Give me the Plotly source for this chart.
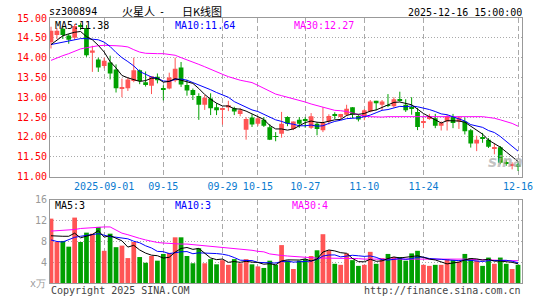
import plotly.graph_objects as go

dates = [
    "2025-08-19","2025-08-20","2025-08-21","2025-08-22","2025-08-25","2025-08-26","2025-08-27","2025-08-28","2025-08-29",
    "2025-09-01","2025-09-02","2025-09-03","2025-09-04","2025-09-05","2025-09-08","2025-09-09","2025-09-10","2025-09-11",
    "2025-09-12","2025-09-15","2025-09-16","2025-09-17","2025-09-18","2025-09-19","2025-09-22","2025-09-23","2025-09-24",
    "2025-09-25","2025-09-26","2025-09-29","2025-09-30",
    "2025-10-09","2025-10-10","2025-10-13","2025-10-14","2025-10-15","2025-10-16","2025-10-17","2025-10-20","2025-10-21",
    "2025-10-22","2025-10-23","2025-10-24","2025-10-27","2025-10-28","2025-10-29","2025-10-30","2025-10-31",
    "2025-11-03","2025-11-04","2025-11-05","2025-11-06","2025-11-07","2025-11-10","2025-11-11","2025-11-12","2025-11-13",
    "2025-11-14","2025-11-17","2025-11-18","2025-11-19","2025-11-20","2025-11-21","2025-11-24","2025-11-25","2025-11-26",
    "2025-11-27","2025-11-28",
    "2025-12-01","2025-12-02","2025-12-03","2025-12-04","2025-12-05","2025-12-08","2025-12-09","2025-12-10","2025-12-11",
    "2025-12-12","2025-12-15","2025-12-16",
]

opens = [14.39,14.57,14.73,14.56,14.50,14.80,14.75,14.12,13.95,13.79,
         13.88,13.70,13.23,13.23,13.41,13.68,13.38,13.29,13.52,13.20,
         13.22,13.42,13.75,13.31,13.18,13.03,12.81,12.97,12.75,12.70,
         12.74,12.72,12.58,12.18,12.49,12.33,12.43,12.24,12.02,12.08,
         12.50,12.20,12.43,12.42,12.23,12.33,12.17,12.39,12.55,12.50,
         12.56,12.75,12.53,12.50,12.64,12.91,12.81,12.79,12.77,12.94,
         12.81,12.73,12.63,12.36,12.45,12.47,12.28,12.39,12.50,12.39,
         12.39,12.17,11.83,11.98,11.93,11.70,11.74,11.35,11.28,11.30]
highs = [14.78,14.75,14.77,14.60,14.85,14.87,14.82,14.30,14.00,14.00,
         14.05,13.83,13.47,13.50,14.00,13.70,13.65,13.53,13.60,13.30,
         13.62,14.00,13.89,13.44,13.22,13.10,13.06,13.10,12.85,12.72,
         12.91,12.76,12.73,12.50,12.57,12.52,12.50,12.32,12.12,12.63,
         12.52,12.39,12.50,12.50,12.60,12.37,12.75,12.57,12.62,12.58,
         12.81,12.75,12.56,12.70,12.93,12.91,12.93,13.08,13.00,13.14,
         12.95,13.00,12.73,12.48,12.58,12.58,12.39,12.56,12.58,12.52,
         12.49,12.20,12.03,12.10,11.97,11.83,11.77,11.43,11.36,11.39]
lows = [14.23,14.47,14.47,14.35,14.45,14.70,14.02,13.64,13.64,13.73,
        13.45,13.12,13.00,13.16,13.38,13.33,13.27,13.08,13.35,12.92,
        13.20,13.38,13.26,13.04,12.93,12.43,12.68,12.55,12.55,12.31,
        12.65,12.55,12.52,11.93,12.25,12.28,12.25,11.92,11.89,11.98,
        12.27,12.17,12.23,12.23,12.20,12.04,12.12,12.31,12.45,12.43,
        12.52,12.47,12.39,12.42,12.62,12.67,12.67,12.75,12.74,12.89,
        12.63,12.56,12.17,12.22,12.43,12.22,12.16,12.16,12.22,12.20,
        12.06,11.73,11.64,11.85,11.72,11.56,11.31,11.27,11.18,11.14]
closes = [14.68,14.68,14.57,14.45,14.80,14.78,14.06,14.18,13.75,13.92,
          13.60,13.23,13.24,13.45,13.68,13.41,13.33,13.53,13.43,13.19,
          13.50,13.72,13.32,13.17,13.06,12.81,12.99,12.72,12.67,12.71,
          12.80,12.64,12.67,12.45,12.31,12.47,12.28,11.93,12.00,12.33,
          12.33,12.39,12.33,12.41,12.52,12.20,12.35,12.53,12.54,12.58,
          12.71,12.56,12.44,12.67,12.89,12.85,12.89,12.78,12.95,12.93,
          12.67,12.72,12.25,12.37,12.52,12.28,12.35,12.52,12.35,12.49,
          12.14,11.83,11.93,11.97,11.75,11.72,11.35,11.33,11.29,11.26]
volumes = [12.4,7.9,8.1,7.0,12.6,7.9,9.7,9.5,10.8,6.2,
           9.5,6.9,7.2,4.8,7.9,5.0,3.9,5.2,4.3,5.6,
           5.8,8.8,8.8,5.2,3.8,6.7,3.8,4.6,3.6,4.4,
           3.5,4.6,3.8,4.6,3.6,3.2,2.9,4.3,3.5,7.3,
           4.3,2.7,4.3,4.6,5.2,6.3,9.4,6.3,3.7,3.5,
           5.7,4.4,3.3,3.5,6.0,3.7,4.8,5.6,5.0,5.0,
           4.3,5.7,6.2,3.5,3.3,3.5,3.5,4.6,4.4,4.1,
           5.6,4.8,4.3,3.3,4.9,3.7,4.9,3.7,2.7,3.5]

ma5 = [14.33,14.45,14.55,14.60,14.64,14.66,14.53,14.45,14.31,14.14,
       13.90,13.74,13.55,13.49,13.44,13.40,13.42,13.48,13.48,13.38,
       13.40,13.47,13.43,13.38,13.35,13.22,13.07,12.95,12.85,12.78,
       12.78,12.71,12.70,12.65,12.57,12.51,12.44,12.29,12.20,12.20,
       12.17,12.20,12.28,12.36,12.40,12.37,12.36,12.40,12.43,12.44,
       12.54,12.58,12.57,12.59,12.65,12.68,12.75,12.82,12.87,12.88,
       12.84,12.81,12.70,12.59,12.51,12.43,12.35,12.41,12.40,12.40,
       12.37,12.27,12.15,12.07,11.92,11.84,11.74,11.62,11.49,11.38]
ma10 = [14.33,14.36,14.39,14.42,14.45,14.48,14.48,14.47,14.45,14.39,
        14.28,14.13,14.00,13.90,13.79,13.65,13.58,13.51,13.48,13.41,
        13.40,13.45,13.46,13.43,13.37,13.31,13.27,13.19,13.12,13.07,
        13.00,12.89,12.82,12.75,12.68,12.64,12.57,12.49,12.43,12.39,
        12.34,12.32,12.28,12.28,12.30,12.27,12.28,12.34,12.39,12.42,
        12.46,12.47,12.48,12.51,12.55,12.61,12.67,12.69,12.73,12.77,
        12.76,12.78,12.76,12.73,12.69,12.64,12.58,12.56,12.50,12.45,
        12.40,12.31,12.28,12.24,12.16,12.11,12.01,11.89,11.78,11.64]
ma30 = [13.93,14.00,14.05,14.10,14.16,14.22,14.25,14.28,14.30,14.31,
        14.31,14.30,14.29,14.27,14.20,14.14,14.11,14.10,14.10,14.10,
        14.08,14.06,14.00,13.95,13.89,13.83,13.77,13.70,13.64,13.58,
        13.52,13.47,13.43,13.40,13.37,13.30,13.23,13.15,13.08,13.04,
        13.00,12.97,12.93,12.88,12.83,12.79,12.75,12.71,12.67,12.66,
        12.64,12.60,12.56,12.52,12.51,12.50,12.50,12.51,12.51,12.52,
        12.52,12.52,12.52,12.51,12.51,12.52,12.52,12.52,12.52,12.52,
        12.52,12.52,12.52,12.51,12.49,12.47,12.43,12.39,12.34,12.27]
vma5 = [9.1,9.0,9.0,9.0,9.60,8.70,9.06,9.34,10.10,8.82,
        9.14,8.58,8.12,6.92,7.26,6.36,5.76,5.36,5.26,4.80,
        4.96,5.94,6.66,6.84,6.48,6.66,5.66,4.82,4.50,4.62,
        3.98,4.14,3.98,4.18,4.02,3.96,3.62,3.72,3.50,4.24,
        4.46,4.42,4.42,4.64,4.22,4.62,5.96,6.36,6.18,5.84,
        5.72,4.72,4.12,4.08,4.58,4.18,4.26,4.72,5.02,4.82,
        4.94,5.12,5.24,4.94,4.60,4.44,4.00,3.68,3.86,4.02,
        4.44,4.70,4.64,4.42,4.58,4.20,4.22,4.10,3.98,3.70]
vma10 = [8.3,8.0,7.9,8.3,8.8,9.0,9.2,9.4,9.5,9.21,
         8.92,8.82,8.73,8.51,8.04,7.75,7.17,6.74,6.09,6.03,
         5.66,5.85,6.01,6.05,5.64,5.81,5.80,5.74,5.67,5.55,
         5.32,4.90,4.40,4.34,4.32,3.97,3.88,3.85,3.84,4.13,
         4.21,4.02,4.07,4.07,4.23,4.54,5.19,5.39,5.41,5.03,
         5.17,5.34,5.24,5.13,5.21,4.95,4.49,4.42,4.55,4.70,
         4.56,4.69,4.98,4.98,4.71,4.69,4.56,4.46,4.40,4.31,
         4.44,4.35,4.16,4.14,4.30,4.32,4.46,4.37,4.20,3.90]
vma30 = [10.0,10.05,10.1,10.2,10.3,10.5,10.6,10.7,10.8,10.8,
         10.8,10.2,9.6,9.3,8.9,8.6,8.3,8.0,7.8,7.7,
         7.6,7.6,7.5,7.5,7.4,7.3,7.2,7.1,7.0,6.9,
         6.8,6.7,6.5,6.4,6.3,6.1,6.0,5.6,5.4,5.3,
         5.2,5.1,5.0,4.95,4.9,4.8,4.8,4.8,4.8,4.8,
         4.8,4.8,4.7,4.6,4.6,4.6,4.6,4.6,4.6,4.6,
         4.6,4.6,4.6,4.6,4.6,4.65,4.7,4.7,4.65,4.6,
         4.6,4.55,4.5,4.5,4.45,4.4,4.4,4.35,4.3,4.3]

tick_dates = ["2025-09-01","2025-09-15","2025-09-29","2025-10-15","2025-10-27",
              "2025-11-10","2025-11-24","2025-12-16"]
tick_text = ["2025-09-01","09-15","09-29","10-15","10-27","11-10","11-24","12-16"]
price_ticks = [11.0,11.5,12.0,12.5,13.0,13.5,14.0,14.5,15.0]
vol_ticks = [4,8,12,16]

RED = "#ff5555"
GREEN = "#00a000"
MONO = "DejaVu Sans Mono"
CJK = "Noto Sans CJK SC"

W, H = 545, 300
L, R, T, B = 50, 16, 17, 15
PW, PH = W - L - R, H - T - B

def px(x):
    return (x - L) / PW

def py(y):
    return (H - B - y) / PH

up = [c >= o for o, c in zip(opens, closes)]
colors = [RED if u else GREEN for u in up]
body_base = [min(o, c) for o, c in zip(opens, closes)]
body_h = [max(abs(c - o), 0.022) for o, c in zip(opens, closes)]

fig = go.Figure()

# wicks
for flag, col in ((True, RED), (False, GREEN)):
    wx, wy = [], []
    for d, h, l, u in zip(dates, highs, lows, up):
        if u == flag:
            wx += [d, d, None]
            wy += [l, h, None]
    fig.add_trace(go.Scatter(x=wx, y=wy, mode="lines", line=dict(color=col, width=1),
                             hoverinfo="skip", xaxis="x", yaxis="y"))

fig.add_trace(go.Bar(x=dates, y=body_h, base=body_base, width=0.8,
                     marker=dict(color=colors, line=dict(width=0)), xaxis="x", yaxis="y"))

for arr, col in ((ma30, "#ff00ff"), (ma10, "#0000ff"), (ma5, "#000000")):
    fig.add_trace(go.Scatter(x=dates, y=arr, mode="lines", line=dict(color=col, width=1),
                             xaxis="x", yaxis="y"))

fig.add_trace(go.Bar(x=dates, y=volumes, width=0.8,
                     marker=dict(color=colors, line=dict(width=0)), xaxis="x2", yaxis="y2"))
for arr, col in ((vma30, "#ff00ff"), (vma10, "#0000ff"), (vma5, "#000000")):
    fig.add_trace(go.Scatter(x=dates, y=arr, mode="lines", line=dict(color=col, width=1),
                             xaxis="x2", yaxis="y2"))

xr = [-0.17, len(dates) - 0.33]
axis_common = dict(showline=True, mirror=True, linecolor="#999999", linewidth=1,
                   zeroline=False, ticks="")
fig.update_layout(
    width=W, height=H, margin=dict(l=L, r=R, t=T, b=B),
    paper_bgcolor="white", plot_bgcolor="white",
    showlegend=False, barmode="overlay",
    xaxis=dict(domain=[0, 1], anchor="y", type="category", categoryorder="array",
               categoryarray=dates, range=xr, tickvals=tick_dates, ticktext=tick_text,
               tickfont=dict(family=MONO, size=10, color="#0a7bd0"),
               showgrid=True, gridcolor="#aaaaaa", griddash="5px,3px", gridwidth=1,
               **axis_common),
    xaxis2=dict(domain=[0, 1], anchor="y2", type="category", categoryorder="array",
                categoryarray=dates, range=xr, tickvals=tick_dates, showticklabels=False,
                showgrid=True, gridcolor="#aaaaaa", griddash="5px,3px", gridwidth=1,
                **axis_common),
    yaxis=dict(domain=[py(177.3), 1], anchor="x", range=[11, 15], tickvals=price_ticks,
               ticktext=[f"{v:.2f}" for v in price_ticks],
               tickfont=dict(family=MONO, size=10, color="#ff0000"),
               showgrid=True, gridcolor="#aaaaaa", griddash="1px,2px", gridwidth=1,
               **axis_common),
    yaxis2=dict(domain=[0, py(201)], anchor="x2", range=[0, 16], tickvals=vol_ticks,
                ticktext=[str(v) for v in vol_ticks],
                tickfont=dict(family=MONO, size=10, color="#999999"),
                showgrid=True, gridcolor="#aaaaaa", griddash="1px,2px", gridwidth=1,
                **axis_common),
)

def ann(text, x, y, color="#000000", anchor="left", size=10, family=MONO, **kw):
    fig.add_annotation(text=text, x=px(x), y=py(y), xref="paper", yref="paper",
                       xanchor=anchor, yanchor="middle", showarrow=False,
                       font=dict(family=family, size=size, color=color, **kw))

# watermark
ann("sina", 512, 163, color="rgba(175,175,175,0.75)", anchor="center", size=15,
    family="DejaVu Sans", style="italic", weight="bold")

ann("sz300894", 47, 10)
ann("火星人", 121, 10, size=11, family=CJK)
ann("-", 164, 10, anchor="center")
ann("日K线图", 182, 10, size=11, family=CJK)
ann("2025-12-16 15:00:00", 531, 11, anchor="right")
ann(f"MA5:{ma5[-1]:.2f}", 53, 25)
ann(f"MA10:{ma10[-1]:.2f}", 175, 25, color="#0000ff")
ann(f"MA30:{ma30[-1]:.2f}", 296, 25, color="#ff00ff")
ann(f"MA5:{int(vma5[-1])}", 53, 207)
ann(f"MA10:{int(vma10[-1])}", 175, 207, color="#0000ff")
ann(f"MA30:{int(vma30[-1])}", 294, 207, color="#ff00ff")
ann("x万", 28, 285, color="#999999")
ann("Copyright 2025 SINA.COM", 49, 293, color="#444444")
ann("http://finance.sina.com.cn", 530, 293, color="#444444", anchor="right")

fig.write_html("out.html")
